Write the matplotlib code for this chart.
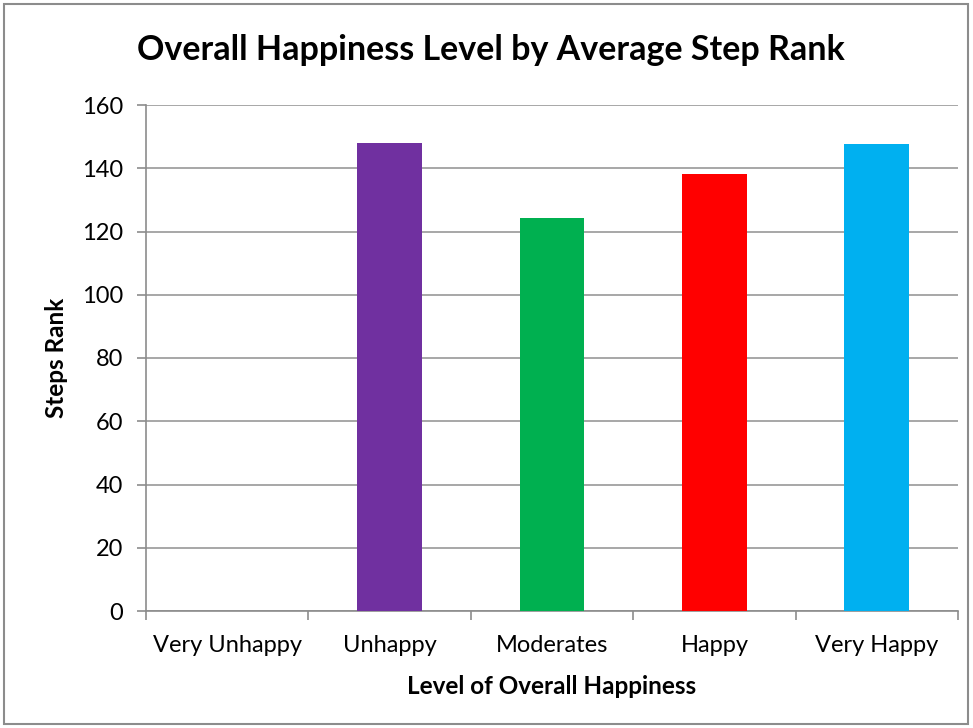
import matplotlib.pyplot as plt
from matplotlib.patches import Rectangle
import numpy as np

categories = ['Very Unhappy', 'Unhappy', 'Moderates', 'Happy', 'Very Happy']
steps_rank = [0, 148.0, 124.2, 138.2, 147.7]
bar_colors = ['#4F81BD', '#7030A0', '#00B050', '#FF0000', '#00B0F0']
y_ticks = [0, 20, 40, 60, 80, 100, 120, 140, 160]

plt.rcParams.update({'font.family': ['Lato', 'DejaVu Sans']})

fig = plt.figure(figsize=(9.73, 7.28), dpi=100)
# chart area border
fig.patches.append(Rectangle((4 / 973, 4 / 728), 964 / 973, 720 / 728, transform=fig.transFigure,
                             fill=False, edgecolor='#8C8C8C', linewidth=1.5))

ax = fig.add_axes([146 / 973, 1 - 611 / 728, 812 / 973, 506 / 728])
x = np.arange(len(categories))
ax.bar(x, steps_rank, width=0.4, color=bar_colors, zorder=3)

ax.set_xlim(-0.5, len(categories) - 0.5)
ax.set_ylim(0, 160)
ax.set_yticks(y_ticks)
ax.yaxis.grid(True, color='#A0A0A0', linewidth=1.3, zorder=0)

ax.set_xticks(x)
ax.set_xticklabels(categories, fontsize=17)
ax.set_xticks(np.arange(-0.5, len(categories)), minor=True)
ax.tick_params(axis='x', which='major', length=0, pad=17)
ax.tick_params(axis='x', which='minor', length=6.5, color='#8C8C8C', width=1.2)
ax.tick_params(axis='y', length=6.5, color='#8C8C8C', width=1.2, labelsize=17, pad=10)

for s in ['top', 'right']:
    ax.spines[s].set_visible(False)
for s in ['left', 'bottom']:
    ax.spines[s].set_color('#8C8C8C')
    ax.spines[s].set_linewidth(1.2)

ax.set_xlabel('Level of Overall Happiness', fontsize=17.5, fontweight='bold', va='center')
ax.xaxis.set_label_coords(0.5, (611 - 686) / 506)
ax.set_ylabel('Steps Rank', fontsize=17.5, fontweight='bold', va='center')
ax.yaxis.set_label_coords((57 - 146) / 812, 0.5)
fig.text(491 / 973, 1 - 50 / 728, 'Overall Happiness Level by Average Step Rank',
         ha='center', va='center', fontsize=24.5, fontweight='bold')

fig.savefig('out.png', dpi=100)
